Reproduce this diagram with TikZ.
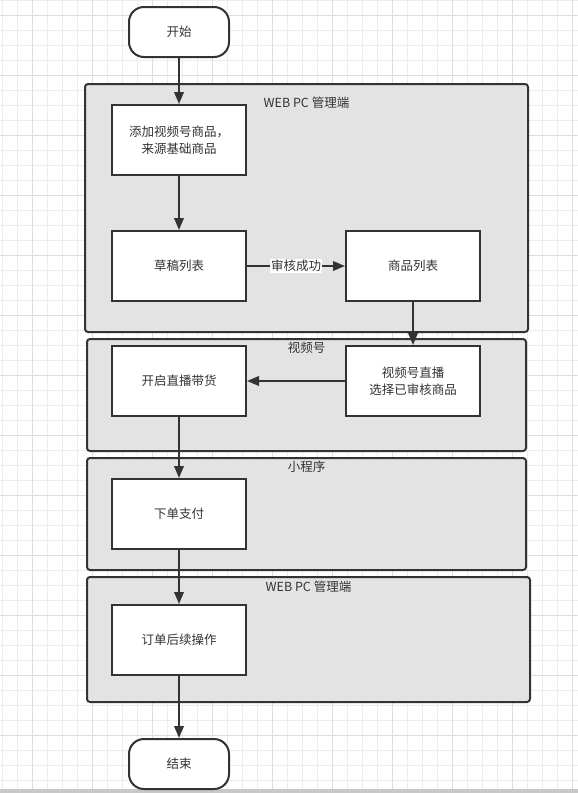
\documentclass[tikz,border=0pt]{standalone}
\usepackage{fontspec}
\setmainfont{Noto Sans CJK SC}
\usetikzlibrary{arrows.meta}
\definecolor{ln}{HTML}{333333}
\definecolor{grp}{HTML}{E3E3E3}
\definecolor{gridA}{HTML}{EDEDED}
\definecolor{gridB}{HTML}{DEDEDE}
\definecolor{barc}{HTML}{C8C8C8}
\definecolor{txt}{HTML}{333333}
\tikzset{
  grpbox/.style={draw=ln, fill=grp, line width=2pt, rounded corners=3pt},
  procbox/.style={draw=ln, fill=white, line width=2pt, minimum width=134pt, minimum height=70pt, inner sep=0pt, align=center, text=txt, font=\fontsize{12.5}{17}\selectfont},
  termbox/.style={draw=ln, fill=white, line width=2pt, rounded corners=15pt, minimum width=100pt, minimum height=50pt, inner sep=0pt, text=txt, font=\fontsize{12.5}{17}\selectfont},
  grplabel/.style={text=txt, inner sep=0pt, font=\fontsize{12.5}{15}\selectfont},
  conn/.style={draw=ln, line width=2pt, -{Triangle[length=12pt,width=9.5pt]}},
}
\begin{document}
\begin{tikzpicture}[x=1pt,y=-1pt]
\useasboundingbox (0,0) rectangle (578,793);
\fill[white] (0,0) rectangle (578,793);
% grid
\foreach \x in {2.5,17.5,...,578} \draw[gridA, line width=1pt] (\x,0) -- (\x,789);
\foreach \y in {0.5,15.5,...,789} \draw[gridA, line width=1pt] (0,\y) -- (578,\y);
\foreach \x in {32.5,92.5,...,578} \draw[gridB, line width=1pt] (\x,0) -- (\x,789);
\foreach \y in {15.5,75.5,...,789} \draw[gridB, line width=1pt] (0,\y) -- (578,\y);
\fill[barc] (0,789) rectangle (578,793);

% groups
\path[grpbox] (85,84) rectangle (528,332);
\node[grplabel] (g1) at (306.5,103) {WEB PC 管理端};
\path[grpbox] (87,339) rectangle (526,451);
\node[grplabel] (g2) at (306.5,348) {视频号};
\path[grpbox] (87,458) rectangle (526,570);
\node[grplabel] (g3) at (306.5,467) {小程序};
\path[grpbox] (87,577) rectangle (530,702);
\node[grplabel] (g4) at (308.5,587) {WEB PC 管理端};

% nodes
\node[termbox] (start) at (179,32) {开始};
\node[procbox] (add) at (179,140) {添加视频号商品，\\来源基础商品};
\node[procbox] (draft) at (179,266) {草稿列表};
\node[procbox] (goods) at (413,266) {商品列表};
\node[procbox] (live) at (413,381) {视频号直播\\选择已审核商品};
\node[procbox] (open) at (179,381) {开启直播带货};
\node[procbox] (pay) at (179,514) {下单支付};
\node[procbox] (order) at (179,640) {订单后续操作};
\node[termbox] (end) at (179,764) {结束};

% connectors
\draw[conn] (start) -- (add);
\draw[conn] (add) -- (draft);
\draw[conn] (draft) -- node[fill=white, inner sep=1pt, text=txt, font=\fontsize{12.5}{15}\selectfont] {审核成功} (goods);
\draw[conn] (goods) -- (live);
\draw[conn] (live) -- (open);
\draw[conn] (open) -- (pay);
\draw[conn] (pay) -- (order);
\draw[conn] (order) -- (end);
\end{tikzpicture}
\end{document}
